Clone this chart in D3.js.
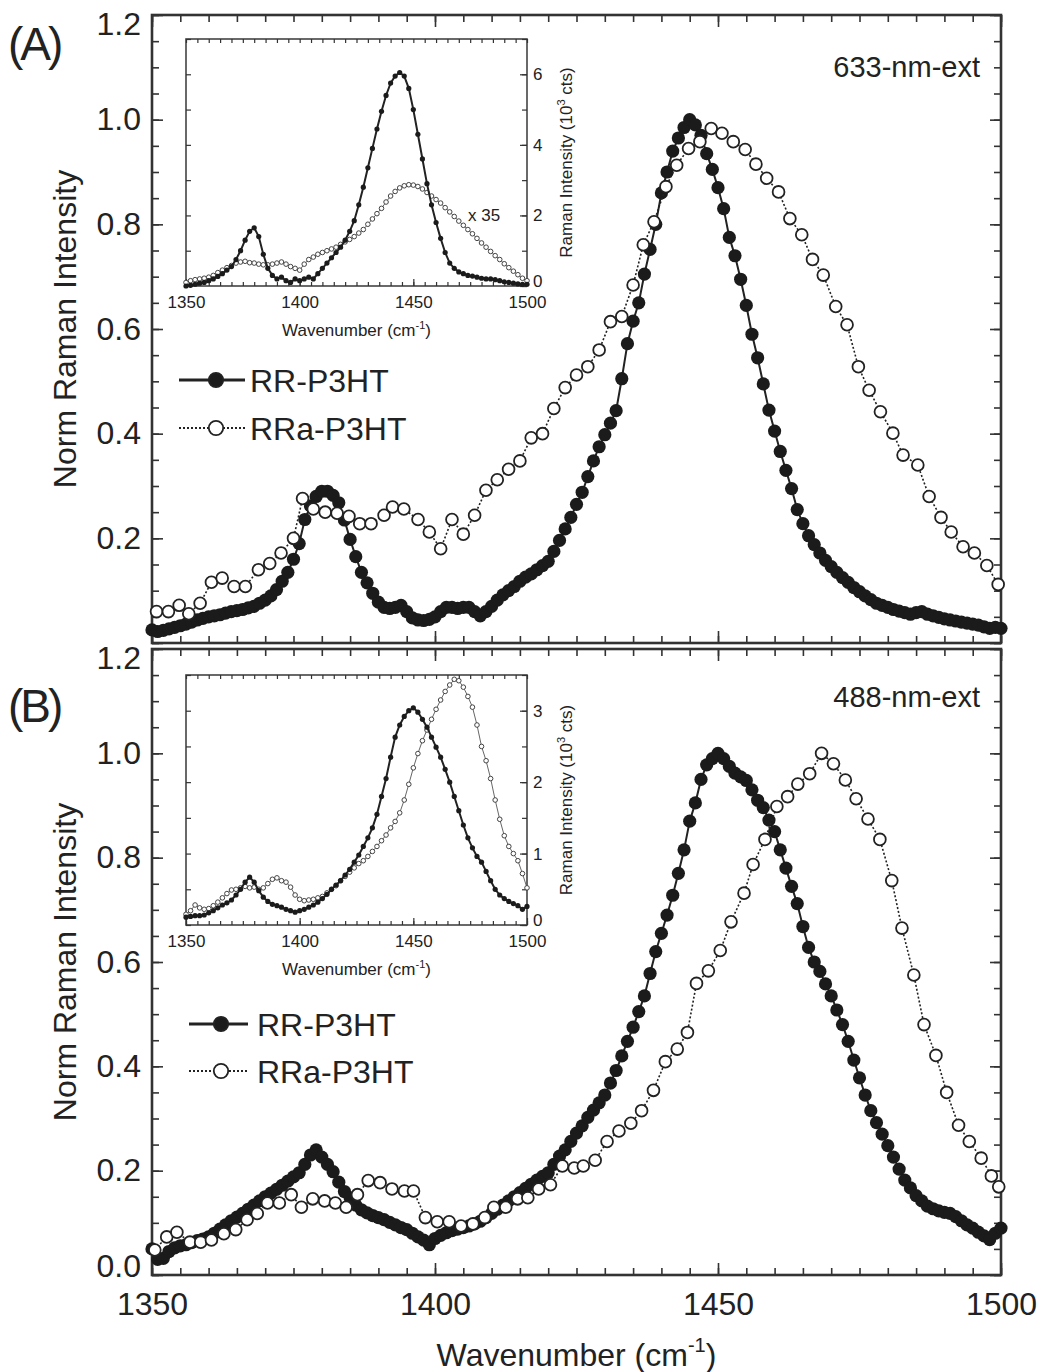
<!DOCTYPE html>
<html>
<head>
<meta charset="utf-8">
<script src="https://cdn.jsdelivr.net/npm/d3@7"></script>
<style>
  body { margin: 0; background: #fff; }
  svg text { font-family: "Liberation Sans", Arial, sans-serif; fill: #222; }
</style>
</head>
<body>
<div id="chart"></div>
<script>
// ---- data ----
// main panels: RR-P3HT sampled every 1 cm-1 from 1350 to 1500
const wnRR = d3.range(1350, 1501, 1);
const rrA = [
  0.025, 0.022, 0.024, 0.027, 0.030, 0.033, 0.036, 0.040, 0.044, 0.047,
  0.050, 0.052, 0.054, 0.057, 0.060, 0.062, 0.064, 0.067, 0.070, 0.076,
  0.082, 0.090, 0.102, 0.118, 0.135, 0.160, 0.190, 0.236, 0.262, 0.280,
  0.290, 0.290, 0.282, 0.268, 0.235, 0.198, 0.165, 0.135, 0.115, 0.095,
  0.078, 0.068, 0.066, 0.068, 0.072, 0.060, 0.048, 0.044, 0.043, 0.045,
  0.050, 0.060, 0.068, 0.068, 0.066, 0.068, 0.068, 0.060, 0.052, 0.060,
  0.070, 0.082, 0.092, 0.100, 0.108, 0.118, 0.126, 0.132, 0.140, 0.148,
  0.156, 0.175, 0.196, 0.218, 0.240, 0.265, 0.288, 0.318, 0.348, 0.375,
  0.398, 0.420, 0.444, 0.505, 0.572, 0.615, 0.650, 0.705, 0.752, 0.800,
  0.860, 0.900, 0.940, 0.965, 0.985, 1.000, 0.990, 0.970, 0.935, 0.905,
  0.870, 0.830, 0.775, 0.740, 0.695, 0.645, 0.590, 0.545, 0.495, 0.445,
  0.405, 0.366, 0.330, 0.295, 0.255, 0.228, 0.205, 0.188, 0.172, 0.158,
  0.146, 0.135, 0.125, 0.116, 0.106, 0.098, 0.090, 0.083, 0.076, 0.072,
  0.068, 0.064, 0.061, 0.058, 0.055, 0.058, 0.060, 0.055, 0.052, 0.049,
  0.046, 0.044, 0.042, 0.040, 0.038, 0.036, 0.034, 0.031, 0.028, 0.030,
  0.028
];
const rrB = [
  0.050, 0.030, 0.032, 0.045, 0.052, 0.056, 0.058, 0.062, 0.066, 0.069,
  0.073, 0.080, 0.088, 0.096, 0.104, 0.111, 0.118, 0.126, 0.134, 0.142,
  0.150, 0.157, 0.164, 0.172, 0.180, 0.188, 0.196, 0.212, 0.230, 0.240,
  0.226, 0.212, 0.198, 0.178, 0.160, 0.148, 0.134, 0.125, 0.119, 0.114,
  0.110, 0.106, 0.101, 0.096, 0.091, 0.087, 0.080, 0.073, 0.067, 0.058,
  0.070, 0.076, 0.081, 0.085, 0.088, 0.091, 0.094, 0.098, 0.103, 0.110,
  0.118, 0.126, 0.134, 0.142, 0.150, 0.158, 0.166, 0.174, 0.182, 0.189,
  0.196, 0.212, 0.228, 0.240, 0.256, 0.272, 0.286, 0.302, 0.316, 0.330,
  0.345, 0.368, 0.392, 0.420, 0.448, 0.475, 0.505, 0.535, 0.578, 0.620,
  0.655, 0.690, 0.728, 0.770, 0.815, 0.870, 0.905, 0.950, 0.978, 0.990,
  1.000, 0.990, 0.975, 0.962, 0.955, 0.948, 0.930, 0.910, 0.896, 0.872,
  0.850, 0.815, 0.780, 0.745, 0.712, 0.668, 0.628, 0.600, 0.582, 0.558,
  0.535, 0.508, 0.480, 0.448, 0.412, 0.378, 0.345, 0.315, 0.292, 0.270,
  0.248, 0.226, 0.203, 0.182, 0.167, 0.152, 0.142, 0.132, 0.127, 0.123,
  0.120, 0.118, 0.112, 0.104, 0.096, 0.090, 0.082, 0.075, 0.068, 0.080,
  0.090
];

// main panels: RRa-P3HT (open circles), roughly every 2 cm-1
const wnRRaA = [
  1350.8, 1352.9, 1354.8, 1356.5, 1358.5, 1360.5, 1362.4, 1364.5, 1366.5, 1368.8,
  1370.8, 1372.8, 1375.0, 1376.6, 1378.5, 1380.6, 1382.7, 1384.8, 1386.7, 1388.7,
  1391.0, 1392.5, 1394.5, 1397.0, 1399.0, 1401.0, 1403.0, 1405.0, 1407.0, 1409.0,
  1411.0, 1413.0, 1415.0, 1417.0, 1419.0, 1421.0, 1423.0, 1425.0, 1427.0, 1429.0,
  1431.0, 1433.0, 1435.0, 1436.8, 1438.7, 1440.8, 1442.7, 1444.8, 1446.8, 1448.8,
  1450.7, 1452.7, 1454.8, 1456.7, 1458.6, 1460.7, 1462.7, 1464.8, 1466.7, 1468.6,
  1470.8, 1472.8, 1474.8, 1476.7, 1478.7, 1480.9, 1482.7, 1485.3, 1487.3, 1489.4,
  1491.2, 1493.3, 1495.3, 1497.5, 1499.5
];
const rraA = [
  0.060, 0.060, 0.072, 0.056, 0.076, 0.116, 0.124, 0.108, 0.108, 0.140,
  0.152, 0.172, 0.200, 0.276, 0.256, 0.250, 0.248, 0.242, 0.228, 0.228,
  0.244, 0.260, 0.256, 0.236, 0.212, 0.180, 0.236, 0.208, 0.244, 0.292,
  0.312, 0.332, 0.348, 0.392, 0.400, 0.448, 0.488, 0.512, 0.528, 0.560,
  0.614, 0.624, 0.684, 0.761, 0.805, 0.872, 0.913, 0.945, 0.958, 0.983,
  0.974, 0.958, 0.943, 0.915, 0.888, 0.862, 0.811, 0.780, 0.733, 0.703,
  0.643, 0.608, 0.528, 0.483, 0.442, 0.401, 0.359, 0.340, 0.280, 0.240,
  0.212, 0.184, 0.172, 0.148, 0.112
];
const wnRRaB = [
  1350.5, 1352.6, 1354.4, 1356.7, 1358.6, 1360.5, 1362.7, 1364.8, 1366.8, 1368.6,
  1370.4, 1372.5, 1374.6, 1376.4, 1378.4, 1380.5, 1382.4, 1384.3, 1386.3, 1388.2,
  1390.3, 1392.4, 1394.6, 1396.2, 1398.3, 1400.4, 1402.5, 1404.6, 1406.7, 1408.8,
  1410.4, 1412.5, 1414.6, 1416.4, 1418.3, 1420.4, 1422.5, 1424.6, 1426.2, 1428.3,
  1430.4, 1432.5, 1434.6, 1436.5, 1438.6, 1440.7, 1442.8, 1444.6, 1446.2, 1448.3,
  1450.4, 1452.3, 1454.6, 1456.2, 1458.3, 1460.4, 1462.3, 1464.1, 1466.2, 1468.3,
  1470.4, 1472.5, 1474.4, 1476.5, 1478.6, 1480.7, 1482.5, 1484.6, 1486.4, 1488.5,
  1490.4, 1492.5, 1494.4, 1496.5, 1498.3, 1499.6
];
const rraB = [
  0.048, 0.073, 0.082, 0.063, 0.063, 0.067, 0.079, 0.087, 0.106, 0.118,
  0.138, 0.138, 0.154, 0.130, 0.146, 0.142, 0.138, 0.130, 0.154, 0.181,
  0.177, 0.165, 0.161, 0.161, 0.110, 0.102, 0.102, 0.094, 0.098, 0.110,
  0.130, 0.130, 0.146, 0.148, 0.165, 0.173, 0.209, 0.205, 0.209, 0.220,
  0.256, 0.276, 0.291, 0.315, 0.354, 0.409, 0.433, 0.465, 0.559, 0.583,
  0.622, 0.677, 0.732, 0.787, 0.835, 0.898, 0.917, 0.941, 0.961, 1.000,
  0.980, 0.949, 0.913, 0.874, 0.835, 0.756, 0.665, 0.575, 0.480, 0.421,
  0.350, 0.287, 0.256, 0.224, 0.190, 0.169
];

// insets: raw Raman intensity (10^3 cts), every 2 cm-1
const wnInset = d3.range(1350, 1501, 2);
const insetRRA = [
  0.00, 0.02, 0.05, 0.08, 0.10, 0.15, 0.20, 0.27, 0.35, 0.45,
  0.55, 0.75, 1.00, 1.30, 1.55, 1.65, 1.40, 0.90, 0.50, 0.30,
  0.20, 0.25, 0.15, 0.10, 0.20, 0.15, 0.20, 0.25, 0.20, 0.35,
  0.50, 0.65, 0.80, 0.95, 1.10, 1.30, 1.55, 1.85, 2.30, 2.80,
  3.35, 3.90, 4.45, 4.95, 5.40, 5.75, 5.95, 6.05, 5.95, 5.60,
  5.00, 4.30, 3.60, 2.90, 2.30, 1.80, 1.35, 0.95, 0.65, 0.50,
  0.40, 0.35, 0.30, 0.28, 0.25, 0.22, 0.20, 0.20, 0.18, 0.15,
  0.12, 0.10, 0.08, 0.06, 0.05, 0.05
];
const insetRRaA = [
  0.10, 0.15, 0.18, 0.20, 0.22, 0.25, 0.30, 0.38, 0.45, 0.52,
  0.58, 0.65, 0.68, 0.70, 0.66, 0.65, 0.62, 0.60, 0.60, 0.62,
  0.65, 0.68, 0.62, 0.55, 0.50, 0.45, 0.62, 0.75, 0.82, 0.90,
  0.95, 1.00, 1.05, 1.10, 1.18, 1.25, 1.32, 1.40, 1.50, 1.60,
  1.75, 1.90, 2.05, 2.20, 2.38, 2.55, 2.68, 2.78, 2.84, 2.87,
  2.86, 2.82, 2.75, 2.65, 2.55, 2.45, 2.35, 2.22, 2.10, 1.97,
  1.84, 1.72, 1.60, 1.48, 1.35, 1.22, 1.10, 0.98, 0.86, 0.75,
  0.63, 0.52, 0.42, 0.32, 0.22, 0.15
];
const insetRRB = [
  0.11, 0.12, 0.13, 0.13, 0.14, 0.17, 0.20, 0.24, 0.28, 0.31,
  0.35, 0.42, 0.50, 0.60, 0.67, 0.60, 0.48, 0.39, 0.33, 0.29,
  0.27, 0.25, 0.22, 0.20, 0.18, 0.20, 0.22, 0.25, 0.28, 0.32,
  0.37, 0.43, 0.50, 0.56, 0.62, 0.70, 0.78, 0.88, 0.98, 1.10,
  1.22, 1.36, 1.55, 1.80, 2.05, 2.35, 2.63, 2.80, 2.92, 3.00,
  3.04, 2.98, 2.88, 2.77, 2.63, 2.49, 2.35, 2.18, 2.00, 1.80,
  1.60, 1.40, 1.22, 1.08, 0.96, 0.88, 0.75, 0.62, 0.50, 0.42,
  0.37, 0.33, 0.30, 0.27, 0.22, 0.26
];
const insetRRaB = [
  0.15, 0.20, 0.28, 0.24, 0.22, 0.23, 0.27, 0.32, 0.38, 0.44,
  0.49, 0.50, 0.52, 0.54, 0.52, 0.53, 0.50, 0.52, 0.58, 0.64,
  0.66, 0.62, 0.60, 0.53, 0.42, 0.36, 0.34, 0.35, 0.36, 0.38,
  0.40, 0.45, 0.50, 0.55, 0.62, 0.68, 0.74, 0.80, 0.86, 0.90,
  0.96, 1.03, 1.10, 1.18, 1.26, 1.36, 1.45, 1.57, 1.75, 1.97,
  2.20, 2.40, 2.58, 2.73, 2.88, 3.02, 3.15, 3.27, 3.36, 3.44,
  3.42, 3.33, 3.20, 3.05, 2.80, 2.50, 2.30, 2.05, 1.75, 1.48,
  1.25, 1.10, 1.00, 0.90, 0.72, 0.52
];

// tick values and labels
const xMajor = [1350, 1400, 1450, 1500];
const xMinor = d3.range(1350, 1501, 5);
const yMajor = [0, 0.2, 0.4, 0.6, 0.8, 1.0, 1.2];
const yMinor = d3.range(0, 1.2001, 0.05);
const seriesNames = ["RR-P3HT", "RRa-P3HT"];
const excitation = ["633-nm-ext", "488-nm-ext"];
const panelTags = ["(A)", "(B)"];

// ---- layout ----
const W = 1042, H = 1372;
const INK = "#222";

const svg = d3.select("#chart").append("svg")
    .attr("width", W)
    .attr("height", H);

const x = d3.scaleLinear().domain([1350, 1500]).range([152, 1001]);
const xIn = d3.scaleLinear().domain([1350, 1500]).range([186, 527]);

const panels = [
  { top: 15, bottom: 643, tagY: 60, extY: 77, rr: rrA, wnRRa: wnRRaA, rra: rraA,
    yLabels: [0.2, 0.4, 0.6, 0.8, 1.0, 1.2], showX: false,
    legend: { x0: 179, x1: 245, xm: 216, tx: 250, y: [380, 428] },
    inset: { top: 39, bottom: 286, ymax: 7, major: [0, 2, 4, 6], minor: d3.range(0, 7.01, 1),
             rr: insetRRA, rra: insetRRaA, note: "x 35" } },
  { top: 649, bottom: 1275, tagY: 722, extY: 707, rr: rrB, wnRRa: wnRRaB, rra: rraB,
    yLabels: yMajor, showX: true,
    legend: { x0: 189, x1: 248, xm: 221, tx: 257, y: [1024, 1071] },
    inset: { top: 675, bottom: 925, ymax: 3.5, major: [0, 1, 2, 3], minor: d3.range(0, 3.51, 0.5),
             rr: insetRRB, rra: insetRRaB, note: null } }
];

// draw a set of inward ticks, strip the domain line
function tickAxis(g, axis, len, fontSize, pad) {
  g.call(axis.tickSize(-len).tickPadding(pad));
  g.select(".domain").remove();
  g.selectAll(".tick line").attr("stroke", "#333").attr("stroke-width", 1.6);
  g.selectAll(".tick text")
      .attr("fill", INK)
      .style("font-size", fontSize + "px")
      .style("font-family", "'Liberation Sans', Arial, sans-serif");
}

panels.forEach((p, i) => {
  const y = d3.scaleLinear().domain([0, 1.2]).range([p.bottom, p.top]);
  const g = svg.append("g");

  // frame
  g.append("rect")
      .attr("x", x.range()[0]).attr("y", p.top)
      .attr("width", x.range()[1] - x.range()[0])
      .attr("height", p.bottom - p.top)
      .attr("fill", "none").attr("stroke", "#333").attr("stroke-width", 2.6);

  // minor ticks all round
  const noLab = () => "";
  tickAxis(g.append("g").attr("transform", `translate(0,${p.bottom})`),
      d3.axisBottom(x).tickValues(xMinor).tickFormat(noLab), 7, 0, 0);
  tickAxis(g.append("g").attr("transform", `translate(0,${p.top})`),
      d3.axisTop(x).tickValues(xMinor).tickFormat(noLab), 7, 0, 0);
  tickAxis(g.append("g").attr("transform", `translate(${x.range()[0]},0)`),
      d3.axisLeft(y).tickValues(yMinor).tickFormat(noLab), 7, 0, 0);
  tickAxis(g.append("g").attr("transform", `translate(${x.range()[1]},0)`),
      d3.axisRight(y).tickValues(yMinor).tickFormat(noLab), 7, 0, 0);

  // major ticks
  tickAxis(g.append("g").attr("transform", `translate(0,${p.bottom})`),
      d3.axisBottom(x).tickValues(xMajor).tickFormat(p.showX ? d3.format("d") : noLab), 12, 32, 17);
  tickAxis(g.append("g").attr("transform", `translate(0,${p.top})`),
      d3.axisTop(x).tickValues(xMajor).tickFormat(noLab), 12, 0, 0);
  const yl = g.append("g").attr("transform", `translate(${x.range()[0]},0)`);
  tickAxis(yl, d3.axisLeft(y).tickValues(yMajor)
      .tickFormat(d => p.yLabels.includes(d) ? d3.format(".1f")(d) : ""), 11, 32, 11);
  // edge labels sit a little inside the frame, as in the figure
  yl.selectAll(".tick text")
      .attr("dy", d => d === 1.2 ? "0.62em" : d === 0 ? "0.05em" : "0.32em");
  tickAxis(g.append("g").attr("transform", `translate(${x.range()[1]},0)`),
      d3.axisRight(y).tickValues(yMajor).tickFormat(noLab), 11, 0, 0);

  // RR: filled circles on a solid line
  const rrPts = wnRR.map((w, k) => [w, p.rr[k]]);
  const rraPts = p.wnRRa.map((w, k) => [w, p.rra[k]]);
  const line = d3.line().x(d => x(d[0])).y(d => y(d[1]));

  g.append("path").datum(rrPts)
      .attr("d", line).attr("fill", "none")
      .attr("stroke", INK).attr("stroke-width", 2);
  g.append("g").selectAll("circle").data(rrPts).join("circle")
      .attr("cx", d => x(d[0])).attr("cy", d => y(d[1]))
      .attr("r", 6.6).attr("fill", "#1b1b1b");

  // RRa: open circles on a dotted line
  g.append("path").datum(rraPts)
      .attr("d", line).attr("fill", "none")
      .attr("stroke", INK).attr("stroke-width", 1.6)
      .attr("stroke-dasharray", "2,2");
  g.append("g").selectAll("circle").data(rraPts).join("circle")
      .attr("cx", d => x(d[0])).attr("cy", d => y(d[1]))
      .attr("r", 5.9).attr("fill", "#fff")
      .attr("stroke", INK).attr("stroke-width", 1.8);

  // legend
  const lg = g.append("g");
  [0, 1].forEach(s => {
    const ly = p.legend.y[s];
    lg.append("line")
        .attr("x1", p.legend.x0).attr("x2", p.legend.x1)
        .attr("y1", ly).attr("y2", ly)
        .attr("stroke", INK)
        .attr("stroke-width", s === 0 ? 3 : 1.8)
        .attr("stroke-dasharray", s === 0 ? null : "2,2");
    lg.append("circle")
        .attr("cx", p.legend.xm).attr("cy", ly).attr("r", 7.2)
        .attr("fill", s === 0 ? "#1b1b1b" : "#fff")
        .attr("stroke", INK).attr("stroke-width", 1.8);
    lg.append("text")
        .attr("x", p.legend.tx).attr("y", ly).attr("dy", "0.36em")
        .style("font-size", "32px")
        .text(seriesNames[s]);
  });

  // panel tag and excitation label
  g.append("text")
      .attr("x", 8).attr("y", p.tagY)
      .style("font-size", "46px").style("letter-spacing", "-3px")
      .text(panelTags[i]);
  g.append("text")
      .attr("x", 980).attr("y", p.extY)
      .attr("text-anchor", "end")
      .style("font-size", "29px")
      .text(excitation[i]);

  // y-axis title
  g.append("text")
      .attr("transform", `translate(76,${(p.top + p.bottom) / 2}) rotate(-90)`)
      .attr("text-anchor", "middle")
      .style("font-size", "32px")
      .text("Norm Raman Intensity");

  // ---- inset ----
  const ins = p.inset;
  const yIn = d3.scaleLinear().domain([0, ins.ymax]).range([ins.bottom, ins.top]);
  const ig = g.append("g");
  ig.append("rect")
      .attr("x", xIn.range()[0]).attr("y", ins.top)
      .attr("width", xIn.range()[1] - xIn.range()[0])
      .attr("height", ins.bottom - ins.top)
      .attr("fill", "#fff").attr("stroke", "#444").attr("stroke-width", 1.6);

  tickAxis(ig.append("g").attr("transform", `translate(0,${ins.bottom})`),
      d3.axisBottom(xIn).tickValues(xMinor).tickFormat(noLab), 4, 0, 0);
  tickAxis(ig.append("g").attr("transform", `translate(0,${ins.top})`),
      d3.axisTop(xIn).tickValues(xMinor).tickFormat(noLab), 4, 0, 0);
  tickAxis(ig.append("g").attr("transform", `translate(${xIn.range()[0]},0)`),
      d3.axisLeft(yIn).tickValues(ins.minor).tickFormat(noLab), 5, 0, 0);
  tickAxis(ig.append("g").attr("transform", `translate(${xIn.range()[1]},0)`),
      d3.axisRight(yIn).tickValues(ins.minor).tickFormat(noLab), 5, 0, 0);
  tickAxis(ig.append("g").attr("transform", `translate(0,${ins.bottom})`),
      d3.axisBottom(xIn).tickValues(xMajor).tickFormat(d3.format("d")), 7, 17, 10);
  const ir = ig.append("g").attr("transform", `translate(${xIn.range()[1]},0)`);
  tickAxis(ir, d3.axisRight(yIn).tickValues(ins.major).tickFormat(d3.format("d")), 7, 17, 6);
  // lift the "0" label clear of the "1500" below it
  ir.selectAll(".tick text").attr("dy", d => d === 0 ? "0.02em" : "0.32em");
  ig.selectAll(".tick line").attr("stroke-width", 1.2);

  const inLine = d3.line().x(d => xIn(d[0])).y(d => yIn(d[1]));
  const inRR = wnInset.map((w, k) => [w, ins.rr[k]]);
  const inRRa = wnInset.map((w, k) => [w, ins.rra[k]]);

  ig.append("path").datum(inRRa).attr("d", inLine)
      .attr("fill", "none").attr("stroke", "#555").attr("stroke-width", 0.9);
  ig.append("g").selectAll("circle").data(inRRa).join("circle")
      .attr("cx", d => xIn(d[0])).attr("cy", d => yIn(d[1]))
      .attr("r", 2.3).attr("fill", "#fff")
      .attr("stroke", "#444").attr("stroke-width", 1);
  ig.append("path").datum(inRR).attr("d", inLine)
      .attr("fill", "none").attr("stroke", INK).attr("stroke-width", 2);
  ig.append("g").selectAll("circle").data(inRR).join("circle")
      .attr("cx", d => xIn(d[0])).attr("cy", d => yIn(d[1]))
      .attr("r", 2.6).attr("fill", "#1b1b1b");

  if (ins.note) {
    ig.append("text")
        .attr("x", 468).attr("y", 221)
        .style("font-size", "17px")
        .text(ins.note);
  }

  // inset axis titles
  const xt = ig.append("text")
      .attr("x", (xIn.range()[0] + xIn.range()[1]) / 2)
      .attr("y", ins.bottom + 50)
      .attr("text-anchor", "middle")
      .style("font-size", "17px");
  xt.append("tspan").text("Wavenumber (cm");
  xt.append("tspan").attr("dy", -7).style("font-size", "11px").text("-1");
  xt.append("tspan").attr("dy", 7).text(")");

  const yt = ig.append("text")
      .attr("transform", `translate(572,${(ins.top + ins.bottom) / 2}) rotate(-90)`)
      .attr("text-anchor", "middle")
      .style("font-size", "17px");
  yt.append("tspan").text("Raman Intensity (10");
  yt.append("tspan").attr("dy", -7).style("font-size", "11px").text("3");
  yt.append("tspan").attr("dy", 7).text(" cts)");
});

// shared x-axis title
const xTitle = svg.append("text")
    .attr("x", (x.range()[0] + x.range()[1]) / 2)
    .attr("y", 1366)
    .attr("text-anchor", "middle")
    .style("font-size", "32px");
xTitle.append("tspan").text("Wavenumber (cm");
xTitle.append("tspan").attr("dy", -14).style("font-size", "20px").text("-1");
xTitle.append("tspan").attr("dy", 14).text(")");
</script>
</body>
</html>
